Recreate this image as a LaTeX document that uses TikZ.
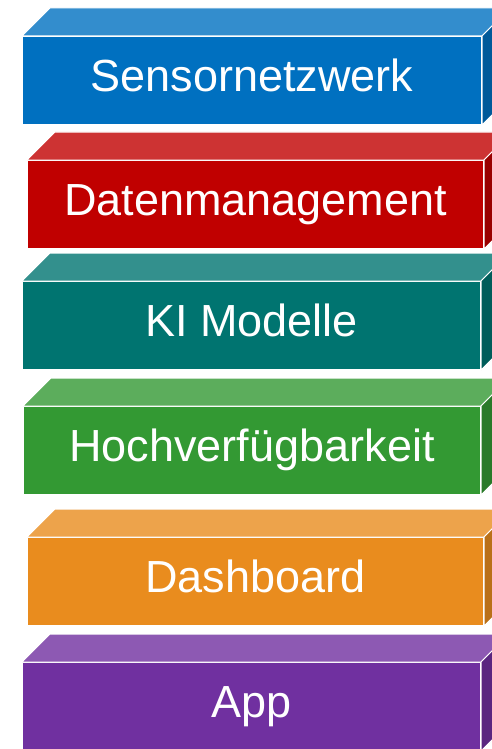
\documentclass[tikz,border=0pt]{standalone}
\usepackage{fontspec}
\setmainfont{Liberation Sans}
\usetikzlibrary{positioning}

\definecolor{layerblue}{HTML}{0070C0}
\definecolor{layerred}{HTML}{C00000}
\definecolor{layerteal}{HTML}{007470}
\definecolor{layergreen}{HTML}{339933}
\definecolor{layerorange}{HTML}{E98C1E}
\definecolor{layerpurple}{HTML}{7030A0}

\begin{document}
\begin{tikzpicture}[
x=1pt, y=-1pt,
LayerFront/.style={draw=white, line width=1pt, anchor=north west,
  minimum height=88pt, inner sep=0pt, text=white,
  text height=33pt, text depth=11pt,
  font=\fontsize{45}{45}\selectfont},
LayerFace/.style={draw=white, line width=1pt, line join=round}
]
\useasboundingbox (0,0) rectangle (492,749);
\clip (0,0) rectangle (492,749);

% one block per layer: left, top, right, colour, name
\foreach \n/\xl/\yt/\xr/\col/\txt in {
  sensor/22/36/481/layerblue/Sensornetzwerk,
  daten/27/160/483/layerred/Datenmanagement,
  ki/22/281/480/layerteal/KI Modelle,
  hoch/23/406/480/layergreen/Hochverfügbarkeit,
  dash/27/537/483/layerorange/Dashboard,
  app/22/662/480/layerpurple/App}
{
  \pgfmathsetmacro{\w}{\xr-\xl}
  \node[LayerFront, fill=\col, minimum width=\w pt] (\n) at (\xl,\yt) {\txt};
  % top face
  \draw[LayerFace, fill=\col!80!white] (\n.north west) -- ++(28,-28)
    -- ([shift={(28,-28)}]\n.north east) -- (\n.north east) -- cycle;
  % side face
  \draw[LayerFace, fill=\col!80!black] (\n.north east) -- ++(28,-28)
    -- ([shift={(28,-28)}]\n.south east) -- (\n.south east) -- cycle;
}

\end{tikzpicture}
\end{document}
